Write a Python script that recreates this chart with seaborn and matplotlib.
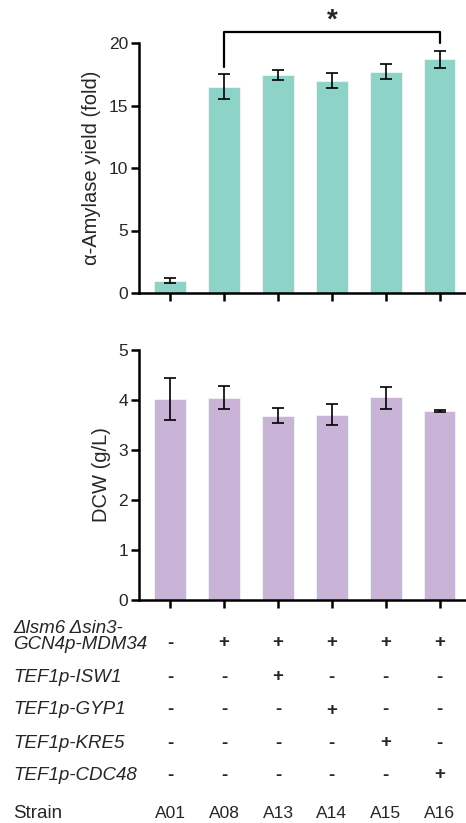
import numpy as np
import pandas as pd
import matplotlib
matplotlib.use("Agg")
import matplotlib.pyplot as plt
import matplotlib.transforms as mtransforms
import seaborn as sns

strains = ["A01", "A08", "A13", "A14", "A15", "A16"]
amylase = [0.97, 16.5, 17.45, 17.0, 17.7, 18.7]
amylase_err = [0.2, 1.0, 0.4, 0.6, 0.6, 0.7]
dcw = [4.02, 4.04, 3.68, 3.70, 4.05, 3.77]
dcw_err = [0.41, 0.23, 0.15, 0.21, 0.22, 0.02]

row_labels = ["Δlsm6 Δsin3-\nGCN4p-MDM34", "TEF1p-ISW1", "TEF1p-GYP1", "TEF1p-KRE5", "TEF1p-CDC48"]
row_signs = [
    ["-", "+", "+", "+", "+", "+"],
    ["-", "-", "+", "-", "-", "-"],
    ["-", "-", "-", "+", "-", "-"],
    ["-", "-", "-", "-", "+", "-"],
    ["-", "-", "-", "-", "-", "+"],
]

sns.set_style("ticks")
plt.rcParams['font.family'] = ['Liberation Sans', 'DejaVu Sans']

W, H = 466, 823
fig = plt.figure(figsize=(W / 100, H / 100), dpi=100)

def fy(py):
    return 1 - py / H

left = 139 / W
width = 1.0 - left
ax1 = fig.add_axes([left, fy(293), width, 250 / H])
ax2 = fig.add_axes([left, fy(600), width, 250 / H])

df1 = pd.DataFrame({"strain": strains, "val": amylase})
df2 = pd.DataFrame({"strain": strains, "val": dcw})

for ax, df, err, color, ymax, yticks, ylabel in [
    (ax1, df1, amylase_err, "#8ED3C7", 20, [0, 5, 10, 15, 20], "α-Amylase yield (fold)"),
    (ax2, df2, dcw_err, "#C9B3D7", 5, [0, 1, 2, 3, 4, 5], "DCW (g/L)"),
]:
    sns.barplot(data=df, x="strain", y="val", color=color, width=0.59,
                edgecolor="#EEF7F5", linewidth=0.6, saturation=1, ax=ax, errorbar=None)
    ax.errorbar(np.arange(len(strains)), df["val"], yerr=err, fmt="none",
                ecolor="black", elinewidth=1.2, capsize=4, capthick=1.2, zorder=5)
    ax.set_xlim(-0.58, 5.49)
    ax.set_ylim(0, ymax)
    ax.set_yticks(yticks)
    ax.set_xticks(range(len(strains)))
    ax.set_xticklabels([])
    ax.set_xlabel("")
    ax.set_ylabel(ylabel, fontsize=14.5, labelpad=5)
    for s in ["top", "right"]:
        ax.spines[s].set_visible(False)
    for s in ["left", "bottom"]:
        ax.spines[s].set_linewidth(1.8)
        ax.spines[s].set_color("black")
    ax.tick_params(axis="both", width=1.8, length=6, color="black", labelsize=12.5)
    ax.tick_params(axis="y", pad=2)
    ax.set_facecolor("none")

# significance bracket
ax1.plot([1, 1, 5, 5], [18.1, 20.9, 20.9, 20.0], color="black", lw=1.6, clip_on=False)
ax1.text(3, 20.75, "*", ha="center", va="bottom", fontsize=20, fontweight="bold", clip_on=False)

# table below
trans = mtransforms.blended_transform_factory(ax2.transData, fig.transFigure)
row_y = [643, 677, 710, 743, 775]
for j, (lab, yy, signs) in enumerate(zip(row_labels, row_y, row_signs)):
    if j == 0:
        fig.text(13 / W, fy(yy + 6), lab, fontsize=13.5, style="italic", va="baseline",
                 ha="left", linespacing=0.95)
    else:
        fig.text(13 / W, fy(yy), lab, fontsize=13.5, style="italic", va="center", ha="left")
    for i, s in enumerate(signs):
        fig.text(i, fy(yy), s, transform=trans, ha="center", va="center",
                 fontsize=13.5, fontweight="bold")

fig.text(13 / W, fy(813), "Strain", fontsize=13.5, va="center", ha="left")
for i, s in enumerate(strains):
    fig.text(i, fy(813), s, transform=trans, ha="center", va="center", fontsize=12.5)

fig.savefig("out.png", dpi=100, facecolor="white")
